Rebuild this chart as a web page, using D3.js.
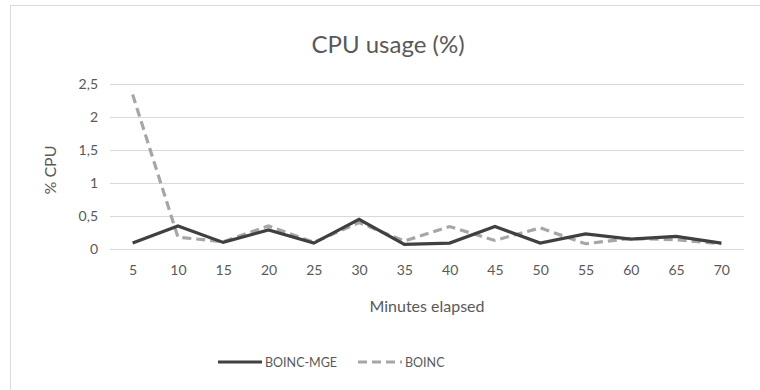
<!DOCTYPE html>
<html><head><meta charset="utf-8">
<script src="https://cdn.jsdelivr.net/npm/d3@7/dist/d3.min.js"></script>
<style>body{margin:0;background:#fff}text{font-family:Lato,"Open Sans",sans-serif}</style>
</head><body><svg id="c" width="760" height="390"></svg>
<script>
const minutes = [5,10,15,20,25,30,35,40,45,50,55,60,65,70];
const boincMGE = [0.09,0.35,0.10,0.29,0.09,0.45,0.07,0.09,0.34,0.09,0.23,0.15,0.19,0.09];
const boinc = [2.34,0.18,0.11,0.35,0.10,0.40,0.12,0.34,0.13,0.32,0.08,0.16,0.14,0.08];
const yTicks = [0,0.5,1,1.5,2,2.5];
const yTickLabels = ["0","0,5","1","1,5","2","2,5"];
const seriesNames = ["BOINC-MGE","BOINC"];

const svg = d3.select("#c");
svg.append("rect").attr("x",10.5).attr("y",5.5).attr("width",760).attr("height",400).attr("fill","#fff").attr("stroke","#d9d9d9");

const m={l:110,r:744,t:84,b:249};
const x=d3.scalePoint().domain(minutes).range([m.l,m.r]).padding(0.5);
const y=d3.scaleLinear().domain([0,2.5]).range([m.b,m.t]);

const ya=svg.append("g").attr("transform",`translate(${m.l},0)`)
  .call(d3.axisLeft(y).tickValues(yTicks).tickSize(-(m.r-m.l)).tickPadding(12).tickFormat((d,i)=>yTickLabels[i]));
ya.select(".domain").remove();
ya.selectAll("line").attr("stroke","#d9d9d9");
ya.selectAll("text").attr("fill","#595959").style("font-size","14px").style("font-family","Lato");

const xa=svg.append("g").attr("transform",`translate(0,${m.b})`).call(d3.axisBottom(x).tickSize(0).tickPadding(16));
xa.select(".domain").remove();
xa.selectAll("text").attr("fill","#595959").style("font-size","14px").style("font-family","Lato");

const line=d3.line().x((d,i)=>x(minutes[i])).y(d=>y(d));
svg.append("path").datum(boinc).attr("d",line).attr("fill","none").attr("stroke","#a6a6a6").attr("stroke-width",3.2).attr("stroke-dasharray","9,5");
svg.append("path").datum(boincMGE).attr("d",line).attr("fill","none").attr("stroke","#404040").attr("stroke-width",3.2);

svg.append("text").attr("x",388).attr("y",53).attr("text-anchor","middle").attr("fill","#595959").style("font-size","24px").text("CPU usage (%)");
svg.append("text").attr("x",(m.l+m.r)/2).attr("y",312).attr("text-anchor","middle").attr("fill","#595959").style("font-size","16px").text("Minutes elapsed");
svg.append("text").attr("transform","translate(56,170) rotate(-90)").attr("text-anchor","middle").attr("fill","#595959").style("font-size","16px").text("% CPU");

const lg=[{x:218,n:seriesNames[0],c:"#404040",d:null},{x:358,n:seriesNames[1],c:"#a6a6a6",d:"9,5"}];
lg.forEach(o=>{
  svg.append("line").attr("x1",o.x).attr("x2",o.x+44).attr("y1",362).attr("y2",362).attr("stroke",o.c).attr("stroke-width",3.2).attr("stroke-dasharray",o.d);
  svg.append("text").attr("x",o.x+47).attr("y",366.5).attr("fill","#595959").style("font-size","12.5px").text(o.n);
});
</script></body></html>
